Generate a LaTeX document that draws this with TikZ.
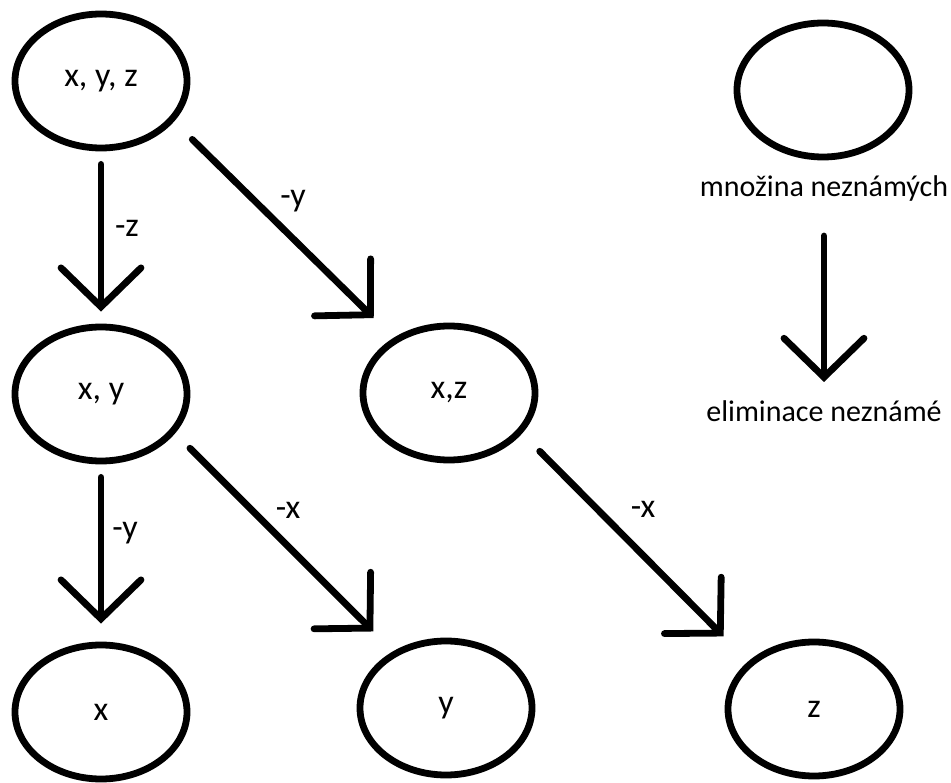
\documentclass[tikz,border=0pt]{standalone}
\usepackage{fontspec}
\setmainfont{Carlito}
\usetikzlibrary{shapes.geometric,arrows.meta}
\begin{document}
\begin{tikzpicture}[x=1pt,y=-1pt,
  ell/.style={draw, ellipse, line width=6.8pt, minimum width=172pt, minimum height=134pt, inner sep=0pt, font=\fontsize{34}{40}\selectfont},
  lbl/.style={inner sep=0pt, font=\fontsize{34}{40}\selectfont},
  legtext/.style={inner sep=0pt, font=\fontsize{30}{36}\selectfont},
  arr/.style={line width=6.8pt, line cap=round, -{Straight Barb[length=39pt,width=80pt,line cap=round,line join=miter]}}
]
\useasboundingbox (0,0) rectangle (951,783);
\node[ell] (xyz) at (101,81) {x, y, z};
\node[ell] (xy) at (101,394) {x, y};
\node[ell] (xz) at (449,393) {x,z};
\node[ell] (x) at (101,712) {x};
\node[ell] (y) at (446,708) {y};
\node[ell] (z) at (814,709) {z};
\node[ell] (leg) at (823,90) {};
\node[legtext, anchor=base] (m1) at (824,197) {množina neznámých};
\node[legtext, anchor=base] (m2) at (824,422) {eliminace neznámé};

\draw[arr, shorten <=13pt, shorten >=12pt] (xyz.south) -- (xy.north);
\draw[arr, shorten <=25.5pt, shorten >=28pt] (xyz.-29) -- (xz.135);
\draw[arr, shorten <=13pt, shorten >=18pt] (xy.south) -- (x.north);
\draw[arr, shorten <=21pt, shorten >=28pt] (xy.-28) -- (y.133);
\draw[arr, shorten <=25pt, shorten >=35pt] (xz.-29) -- (z.144);
\draw[arr, shorten <=39pt, shorten >=40pt] (m1.base) -- (m2.base);

\node[lbl] (lz) at (127,228) {-z};
\node[lbl] (ly1) at (293,201) {-y};
\node[lbl] (ly2) at (125,533) {-y};
\node[lbl] (lx1) at (288,510) {-x};
\node[lbl] (lx2) at (643,509) {-x};
\end{tikzpicture}
\end{document}
